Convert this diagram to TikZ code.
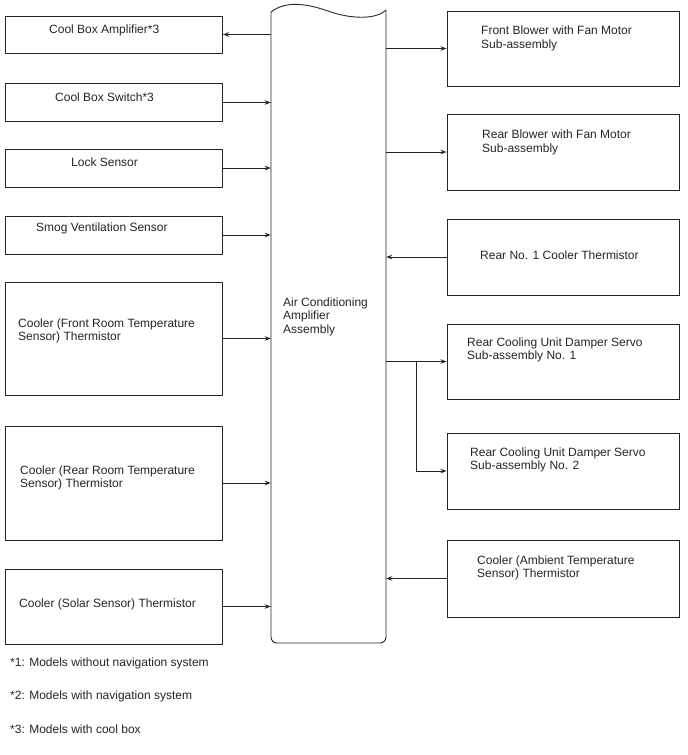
\documentclass[tikz,border=0pt]{standalone}
\usepackage{fontspec}
\setmainfont{Liberation Sans}
\usetikzlibrary{arrows.meta}
\begin{document}
\begin{tikzpicture}[x=1pt,y=-1pt,
  box/.style={draw=black!85, line width=0.9pt, inner sep=0pt, minimum width=217pt},
  rbox/.style={draw=black!85, line width=0.9pt, inner sep=0pt, minimum width=232pt},
  lbl/.style={anchor=west, align=left, inner sep=0pt, font=\fontsize{12}{13.5}\selectfont, text=black!85},
  arr/.style={line width=1pt, draw=black!85, -{Stealth[length=6pt,width=4.5pt]}}]
\useasboundingbox (0,0) rectangle (688,755);
\fill[white] (0,0) rectangle (688,755);

% left boxes
\node[box, minimum height=37pt]  (amp)   at (114,34.5)  {};
\node[box, minimum height=38pt]  (sw)    at (114,102.5) {};
\node[box, minimum height=38pt]  (lock)  at (114,168)   {};
\node[box, minimum height=38pt]  (smog)  at (114,235)   {};
\node[box, minimum height=113pt] (front) at (114,338.5) {};
\node[box, minimum height=114pt] (rear)  at (114,483)   {};
\node[box, minimum height=75pt]  (solar) at (114,606.5) {};

% right boxes
\node[rbox, minimum height=75pt] (fb)  at (563,48.5)  {};
\node[rbox, minimum height=76pt] (rb)  at (563,152)   {};
\node[rbox, minimum height=76pt] (r1)  at (563,257)   {};
\node[rbox, minimum height=75pt] (d1)  at (563,361.5) {};
\node[rbox, minimum height=76pt] (d2)  at (563,471)   {};
\node[rbox, minimum height=77pt] (amb) at (563,578.5) {};

% central unit
\node[inner sep=0pt, minimum width=115pt, minimum height=631pt] (ac) at (328.5,327.5) {};
\draw[draw=black!85, line width=0.9pt] (271,12) .. controls (285,1) and (305,3) .. (328,11)
  .. controls (350,19) and (376,20) .. (386,10);
\draw[draw=black!85, line width=0.9pt, rounded corners=6pt] (386,10) -- (386,643) -- (271,643) -- (271,12);

% labels
\node[lbl] (tamp)   at (49,30)    {Cool Box Amplifier*3};
\node[lbl] (tsw)    at (55,97)    {Cool Box Switch*3};
\node[lbl] (tlock)  at (71,162)   {Lock Sensor};
\node[lbl] (tsmog)  at (36,228)   {Smog Ventilation Sensor};
\node[lbl] (tfront) at (18,331)   {Cooler (Front Room Temperature\\Sensor) Thermistor};
\node[lbl] (trear)  at (20,478)   {Cooler (Rear Room Temperature\\Sensor) Thermistor};
\node[lbl] (tsolar) at (19,604)   {Cooler (Solar Sensor) Thermistor};
\node[lbl] (tac)    at (283,316.5){Air Conditioning\\Amplifier\\Assembly};
\node[lbl] (tfb)    at (481,38.5) {Front Blower with Fan Motor\\Sub-assembly};
\node[lbl] (trb)    at (482,142.5){Rear Blower with Fan Motor\\Sub-assembly};
\node[lbl] (tr1)    at (480,255)  {Rear No. 1 Cooler Thermistor};
\node[lbl] (td1)    at (467,350)  {Rear Cooling Unit Damper Servo\\Sub-assembly No. 1};
\node[lbl] (td2)    at (470,460)  {Rear Cooling Unit Damper Servo\\Sub-assembly No. 2};
\node[lbl] (tamb)   at (477,568)  {Cooler (Ambient Temperature\\Sensor) Thermistor};
\node[lbl] (fn1)    at (10,663)   {*1: Models without navigation system};
\node[lbl] (fn2)    at (10,696)   {*2: Models with navigation system};
\node[lbl] (fn3)    at (10,729)   {*3: Models with cool box};

% connectors, left side
\draw[arr] (ac.west |- amp.east) -- (amp.east);
\draw[arr] (sw.east) -- (ac.west |- sw.east);
\draw[arr] (lock.east) -- (ac.west |- lock.east);
\draw[arr] (smog.east) -- (ac.west |- smog.east);
\draw[arr] (front.east) -- (ac.west |- front.east);
\draw[arr] (rear.east) -- (ac.west |- rear.east);
\draw[arr] (solar.east) -- (ac.west |- solar.east);

% connectors, right side
\draw[arr] (ac.east |- fb.west) -- (fb.west);
\draw[arr] (ac.east |- rb.west) -- (rb.west);
\draw[arr] (r1.west) -- (ac.east |- r1.west);
\draw[arr] (ac.east |- d1.west) -- (d1.west);
\coordinate (br) at (416,361.5);
\draw[arr] (br) |- (d2.west);
\draw[arr] (amb.west) -- (ac.east |- amb.west);
\end{tikzpicture}
\end{document}
